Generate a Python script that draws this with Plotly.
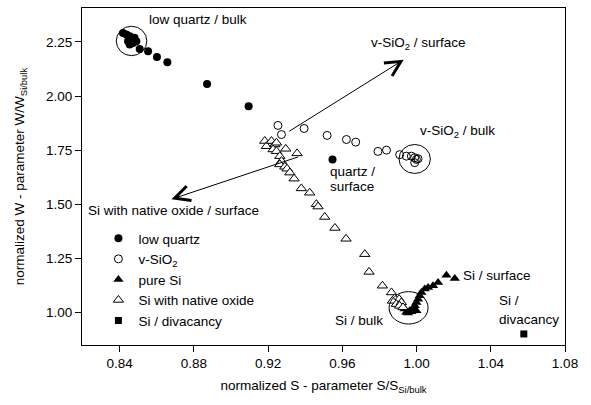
import plotly.graph_objects as go

# ---- data ----
lq_S = [0.8418, 0.8436, 0.8454, 0.8445, 0.8463, 0.8454, 0.8490, 0.8472, 0.8480,
        0.8508, 0.8553, 0.8601, 0.8657, 0.8871, 0.9095, 0.9547]
lq_W = [2.291, 2.284, 2.276, 2.253, 2.261, 2.238, 2.253, 2.245, 2.270,
        2.218, 2.207, 2.181, 2.156, 2.056, 1.953, 1.707]

vs_S = [0.9253, 0.9272, 0.9394, 0.9518, 0.9622, 0.9672, 0.9792, 0.9838,
        0.9909, 0.9945, 0.9972, 0.9990, 0.9999, 1.0008, 0.9990]
vs_W = [1.864, 1.822, 1.850, 1.818, 1.799, 1.787, 1.744, 1.750,
        1.729, 1.722, 1.722, 1.715, 1.707, 1.710, 1.692]

ps_S = [0.9936, 0.9945, 0.9954, 0.9963, 0.9972, 0.9981, 0.9990, 0.9999, 0.9999,
        1.0008, 1.0017, 1.0026, 1.0044, 1.0062, 1.0089, 1.0116, 1.0161, 1.0206]
ps_W = [1.015, 1.000, 0.997, 1.007, 1.003, 1.015, 1.030, 1.046, 1.007,
        1.061, 1.077, 1.092, 1.108, 1.115, 1.123, 1.138, 1.172, 1.157]

no_S = [0.9182, 0.9191, 0.9218, 0.9236, 0.9245, 0.9227, 0.9245, 0.9295, 0.9356,
        0.9263, 0.9272, 0.9263, 0.9290, 0.9302, 0.9317, 0.9340, 0.9379, 0.9424,
        0.9460, 0.9469, 0.9505, 0.9560, 0.9620, 0.9721, 0.9744, 0.9816, 0.9865,
        0.9882, 0.9906, 0.9870, 0.9891, 0.9918, 0.9909, 0.9927]
no_W = [1.792, 1.768, 1.792, 1.776, 1.784, 1.753, 1.745, 1.756, 1.735,
        1.722, 1.699, 1.684, 1.673, 1.664, 1.646, 1.618, 1.573, 1.553,
        1.500, 1.489, 1.441, 1.390, 1.340, 1.269, 1.187, 1.123, 1.092,
        1.065, 1.061, 1.053, 1.038, 1.046, 1.030, 1.023]

dv_S = [1.0578]
dv_W = [0.900]

x_ticks = [0.84, 0.88, 0.92, 0.96, 1.00, 1.04, 1.08]
y_ticks = [1.00, 1.25, 1.50, 1.75, 2.00, 2.25]

FONT = "Liberation Sans, Arial, sans-serif"
FS = 13.5

fig = go.Figure()
fig.add_trace(go.Scatter(x=lq_S, y=lq_W, mode="markers", name="low quartz",
                         marker=dict(symbol="circle", size=8, color="black")))
fig.add_trace(go.Scatter(x=vs_S, y=vs_W, mode="markers", name="v-SiO<sub>2</sub>",
                         marker=dict(symbol="circle-open", size=8, color="black",
                                     line=dict(width=1, color="black"))))
fig.add_trace(go.Scatter(x=ps_S, y=ps_W, mode="markers", name="pure Si",
                         marker=dict(symbol="triangle-up", size=9, color="black")))
fig.add_trace(go.Scatter(x=no_S, y=no_W, mode="markers", name="Si with native oxide",
                         marker=dict(symbol="triangle-up", size=9, color="white",
                                     line=dict(width=1, color="black"))))
fig.add_trace(go.Scatter(x=dv_S, y=dv_W, mode="markers", name="Si / divacancy",
                         marker=dict(symbol="square", size=7, color="black")))

def txt(x, y, s, xa="left", ya="middle"):
    fig.add_annotation(x=x, y=y, text=s, showarrow=False, xanchor=xa, yanchor=ya,
                       font=dict(family=FONT, size=FS, color="black"))

txt(0.882, 2.353, "low quartz / bulk", xa="center")
txt(1.0276, 2.245, "v-SiO<sub>2</sub> / surface", xa="right")
txt(1.0008, 1.838, "v-SiO<sub>2</sub> / bulk")
txt(0.9523, 1.649, "quartz /")
txt(0.9523, 1.584, "surface")
txt(0.8217, 1.472, "Si with native oxide / surface")
txt(1.0241, 1.172, "Si / surface")
txt(1.0433, 1.054, "Si /")
txt(1.0433, 0.969, "divacancy")
txt(0.9829, 0.961, "Si / bulk", xa="right")

for (tx, ty, hx, hy) in [(0.9306, 1.833, 0.9931, 2.168), (0.9370, 1.721, 0.8679, 1.523)]:
    fig.add_annotation(x=hx, y=hy, ax=tx, ay=ty, xref="x", yref="y", axref="x", ayref="y",
                       text="", showarrow=True, arrowhead=5, arrowsize=3, arrowwidth=1,
                       arrowcolor="black", standoff=0, startstandoff=0)

for (cx, cy, rx, ry) in [(0.8464, 2.2546, 15.3, 14.7), (0.9990, 1.709, 15.7, 14.5),
                         (0.9957, 1.0208, 19.5, 16.2)]:
    fig.add_shape(type="circle", xref="x", yref="y", xsizemode="pixel", ysizemode="pixel",
                  xanchor=cx, yanchor=cy, x0=-rx, x1=rx, y0=-ry, y1=ry,
                  line=dict(color="black", width=1))

axis_common = dict(showgrid=False, zeroline=False, showline=True, linecolor="black",
                   linewidth=1, mirror=True, ticks="outside", ticklen=6, tickwidth=1,
                   tickcolor="black", tickformat=".2f",
                   tickfont=dict(family=FONT, size=FS, color="black"))

fig.update_layout(
    width=591, height=405,
    margin=dict(l=82, r=26, t=8, b=60),
    paper_bgcolor="white", plot_bgcolor="white",
    font=dict(family=FONT, size=FS, color="black"),
    xaxis=dict(range=[0.8197, 1.08], tickvals=x_ticks,
               title=dict(text="normalized S - parameter S/S<sub>Si/bulk</sub>",
                          font=dict(family=FONT, size=FS), standoff=10),
               **axis_common),
    yaxis=dict(range=[0.849, 2.407], tickvals=y_ticks,
               title=dict(text="normalized W - parameter W/W<sub>Si/bulk</sub>",
                          font=dict(family=FONT, size=FS), standoff=18),
               **axis_common),
    showlegend=True,
    legend=dict(x=0.034, y=0.362, xanchor="left", yanchor="top",
                bgcolor="rgba(0,0,0,0)", borderwidth=0,
                font=dict(family=FONT, size=FS, color="black")),
)

fig.write_html("out.html")
